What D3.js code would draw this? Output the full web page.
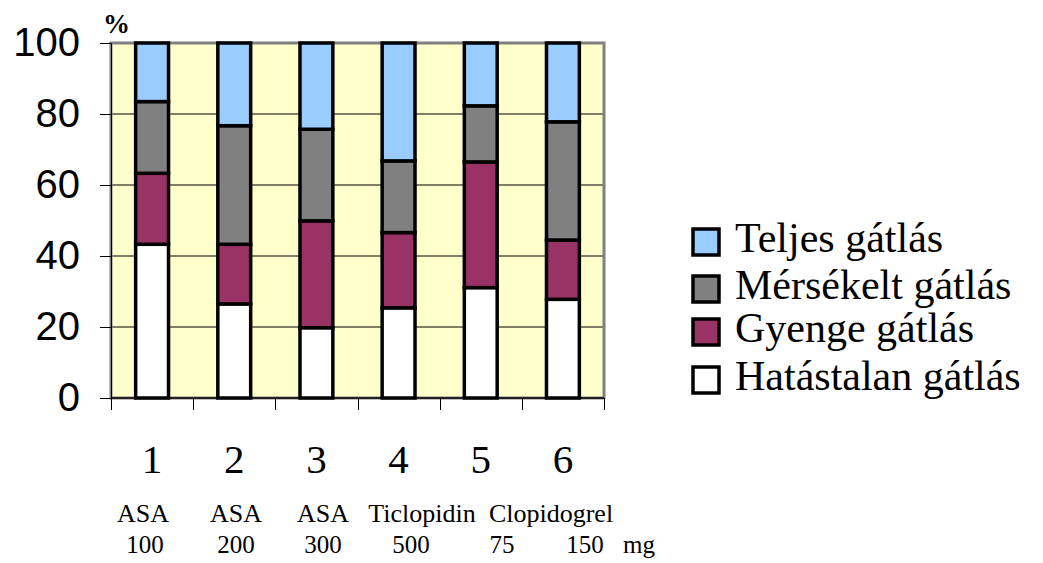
<!DOCTYPE html>
<html>
<head>
<meta charset="utf-8">
<script src="https://cdn.jsdelivr.net/npm/d3@7"></script>
<style>
  html, body { margin: 0; padding: 0; background: #ffffff; }
  svg { display: block; }
</style>
</head>
<body>
<svg id="chart" width="1043" height="563"></svg>
<script>
// ---- data ----
const categories = ["1", "2", "3", "4", "5", "6"];
const hatastalan = [43.3, 26.5, 19.8, 25.4, 31.1, 27.8];
const gyenge     = [20.0, 16.8, 30.1, 21.2, 35.4, 16.7];
const merseklt   = [20.2, 33.4, 25.8, 20.2, 15.8, 33.3];
const teljes     = [16.5, 23.3, 24.3, 33.2, 17.7, 22.2];
const seriesNames = ["Hatástalan gátlás", "Gyenge gátlás", "Mérsékelt gátlás", "Teljes gátlás"];
const yTicks = [0, 20, 40, 60, 80, 100];
const drugLabels = ["ASA", "ASA", "ASA", "Ticlopidin", "Clopidogrel"];
const doseLabels = ["100", "200", "300", "500", "75", "150", "mg"];

// ---- layout ----
const svg = d3.select("#chart");
const L = 111, R = 604, T = 43, B = 398;
const colors = { "Hatástalan gátlás": "#FFFFFF", "Gyenge gátlás": "#993366",
                 "Mérsékelt gátlás": "#808080", "Teljes gátlás": "#99CCFF" };
const serif = "'Liberation Serif', 'Times New Roman', serif";
const sans = "'Liberation Sans', Arial, sans-serif";

const x = d3.scaleBand().domain(categories).range([L, R]).paddingInner(0.6).paddingOuter(0.3);
const y = d3.scaleLinear().domain([0, 100]).range([B, T]);

// table for stacking
const table = categories.map((c, i) => ({
  cat: c,
  "Hatástalan gátlás": hatastalan[i],
  "Gyenge gátlás": gyenge[i],
  "Mérsékelt gátlás": merseklt[i],
  "Teljes gátlás": teljes[i]
}));
const stacked = d3.stack().keys(seriesNames)(table);

// plot background
svg.append("rect").attr("x", L).attr("y", T).attr("width", R - L).attr("height", B - T)
  .attr("fill", "#FFFFCC");

// gridlines
svg.append("g").selectAll("line").data(yTicks.filter(d => d > 0 && d < 100)).join("line")
  .attr("x1", L).attr("x2", R).attr("y1", d => y(d)).attr("y2", d => y(d))
  .attr("stroke", "#000").attr("stroke-width", 1);

// plot frame (gray)
svg.append("rect").attr("x", L).attr("y", T).attr("width", R - L).attr("height", B - T)
  .attr("fill", "none").attr("stroke", "#808080").attr("stroke-width", 3);

// bars
svg.append("g").selectAll("g").data(stacked).join("g")
  .attr("fill", d => colors[d.key])
  .selectAll("rect").data(d => d).join("rect")
  .attr("x", d => x(d.data.cat))
  .attr("width", x.bandwidth())
  .attr("y", d => y(d[1]))
  .attr("height", d => y(d[0]) - y(d[1]))
  .attr("stroke", "#000").attr("stroke-width", 3.5);

// y axis
const yAxis = d3.axisLeft(y).tickValues(yTicks).tickSize(11).tickPadding(20);
const gy = svg.append("g").attr("transform", `translate(${L},0)`).call(yAxis);
gy.select(".domain").attr("stroke", "#000").attr("stroke-width", 1);
gy.selectAll(".tick line").attr("stroke", "#000");
gy.selectAll(".tick text").attr("font-family", sans).attr("font-size", 40).attr("fill", "#000")
  .attr("dy", "0.3em");

// x axis with ticks at band boundaries
const bounds = categories.map(c => x(c) - x.step() * x.paddingInner() / 2);
bounds[0] = L;
bounds.push(R);
svg.append("line").attr("x1", L).attr("x2", R).attr("y1", B).attr("y2", B)
  .attr("stroke", "#000").attr("stroke-width", 1.5);
svg.append("g").selectAll("line").data(bounds).join("line")
  .attr("x1", d => Math.round(d) + 0.5).attr("x2", d => Math.round(d) + 0.5)
  .attr("y1", B).attr("y2", B + 12).attr("stroke", "#000").attr("stroke-width", 1);

// category numbers
svg.append("g").selectAll("text").data(categories).join("text")
  .attr("x", d => x(d) + x.bandwidth() / 2)
  .attr("y", 473)
  .attr("text-anchor", "middle")
  .attr("font-family", serif).attr("font-size", 41).attr("fill", "#000")
  .text(d => d);

// drug labels
const drugX = [143, 236, 323, 422, 551];
svg.append("g").selectAll("text").data(drugLabels).join("text")
  .attr("x", (d, i) => drugX[i]).attr("y", 522)
  .attr("text-anchor", "middle")
  .attr("font-family", serif).attr("font-size", 26).attr("fill", "#000")
  .text(d => d);
const doseX = [145, 236, 323, 411, 502, 585, 639];
svg.append("g").selectAll("text").data(doseLabels).join("text")
  .attr("x", (d, i) => doseX[i]).attr("y", 553)
  .attr("text-anchor", "middle")
  .attr("font-family", serif).attr("font-size", 25).attr("fill", "#000")
  .text(d => d);

// percent sign
svg.append("text").attr("x", 103).attr("y", 33)
  .attr("font-family", serif).attr("font-size", 27).attr("font-weight", "bold")
  .attr("fill", "#000").text("%");

// legend (top to bottom: reverse stacking order)
const legendOrder = seriesNames.slice().reverse();
const legendY = [242, 289, 332, 380];
const lg = svg.append("g").selectAll("g").data(legendOrder).join("g")
  .attr("transform", (d, i) => `translate(693,${legendY[i]})`);
lg.append("rect").attr("x", 0).attr("y", -13).attr("width", 26).attr("height", 26)
  .attr("fill", d => colors[d]).attr("stroke", "#000").attr("stroke-width", 3.5);
lg.append("text").attr("x", 42).attr("y", 10)
  .attr("font-family", serif).attr("font-size", 42).attr("fill", "#000")
  .text(d => d);
</script>
</body>
</html>
